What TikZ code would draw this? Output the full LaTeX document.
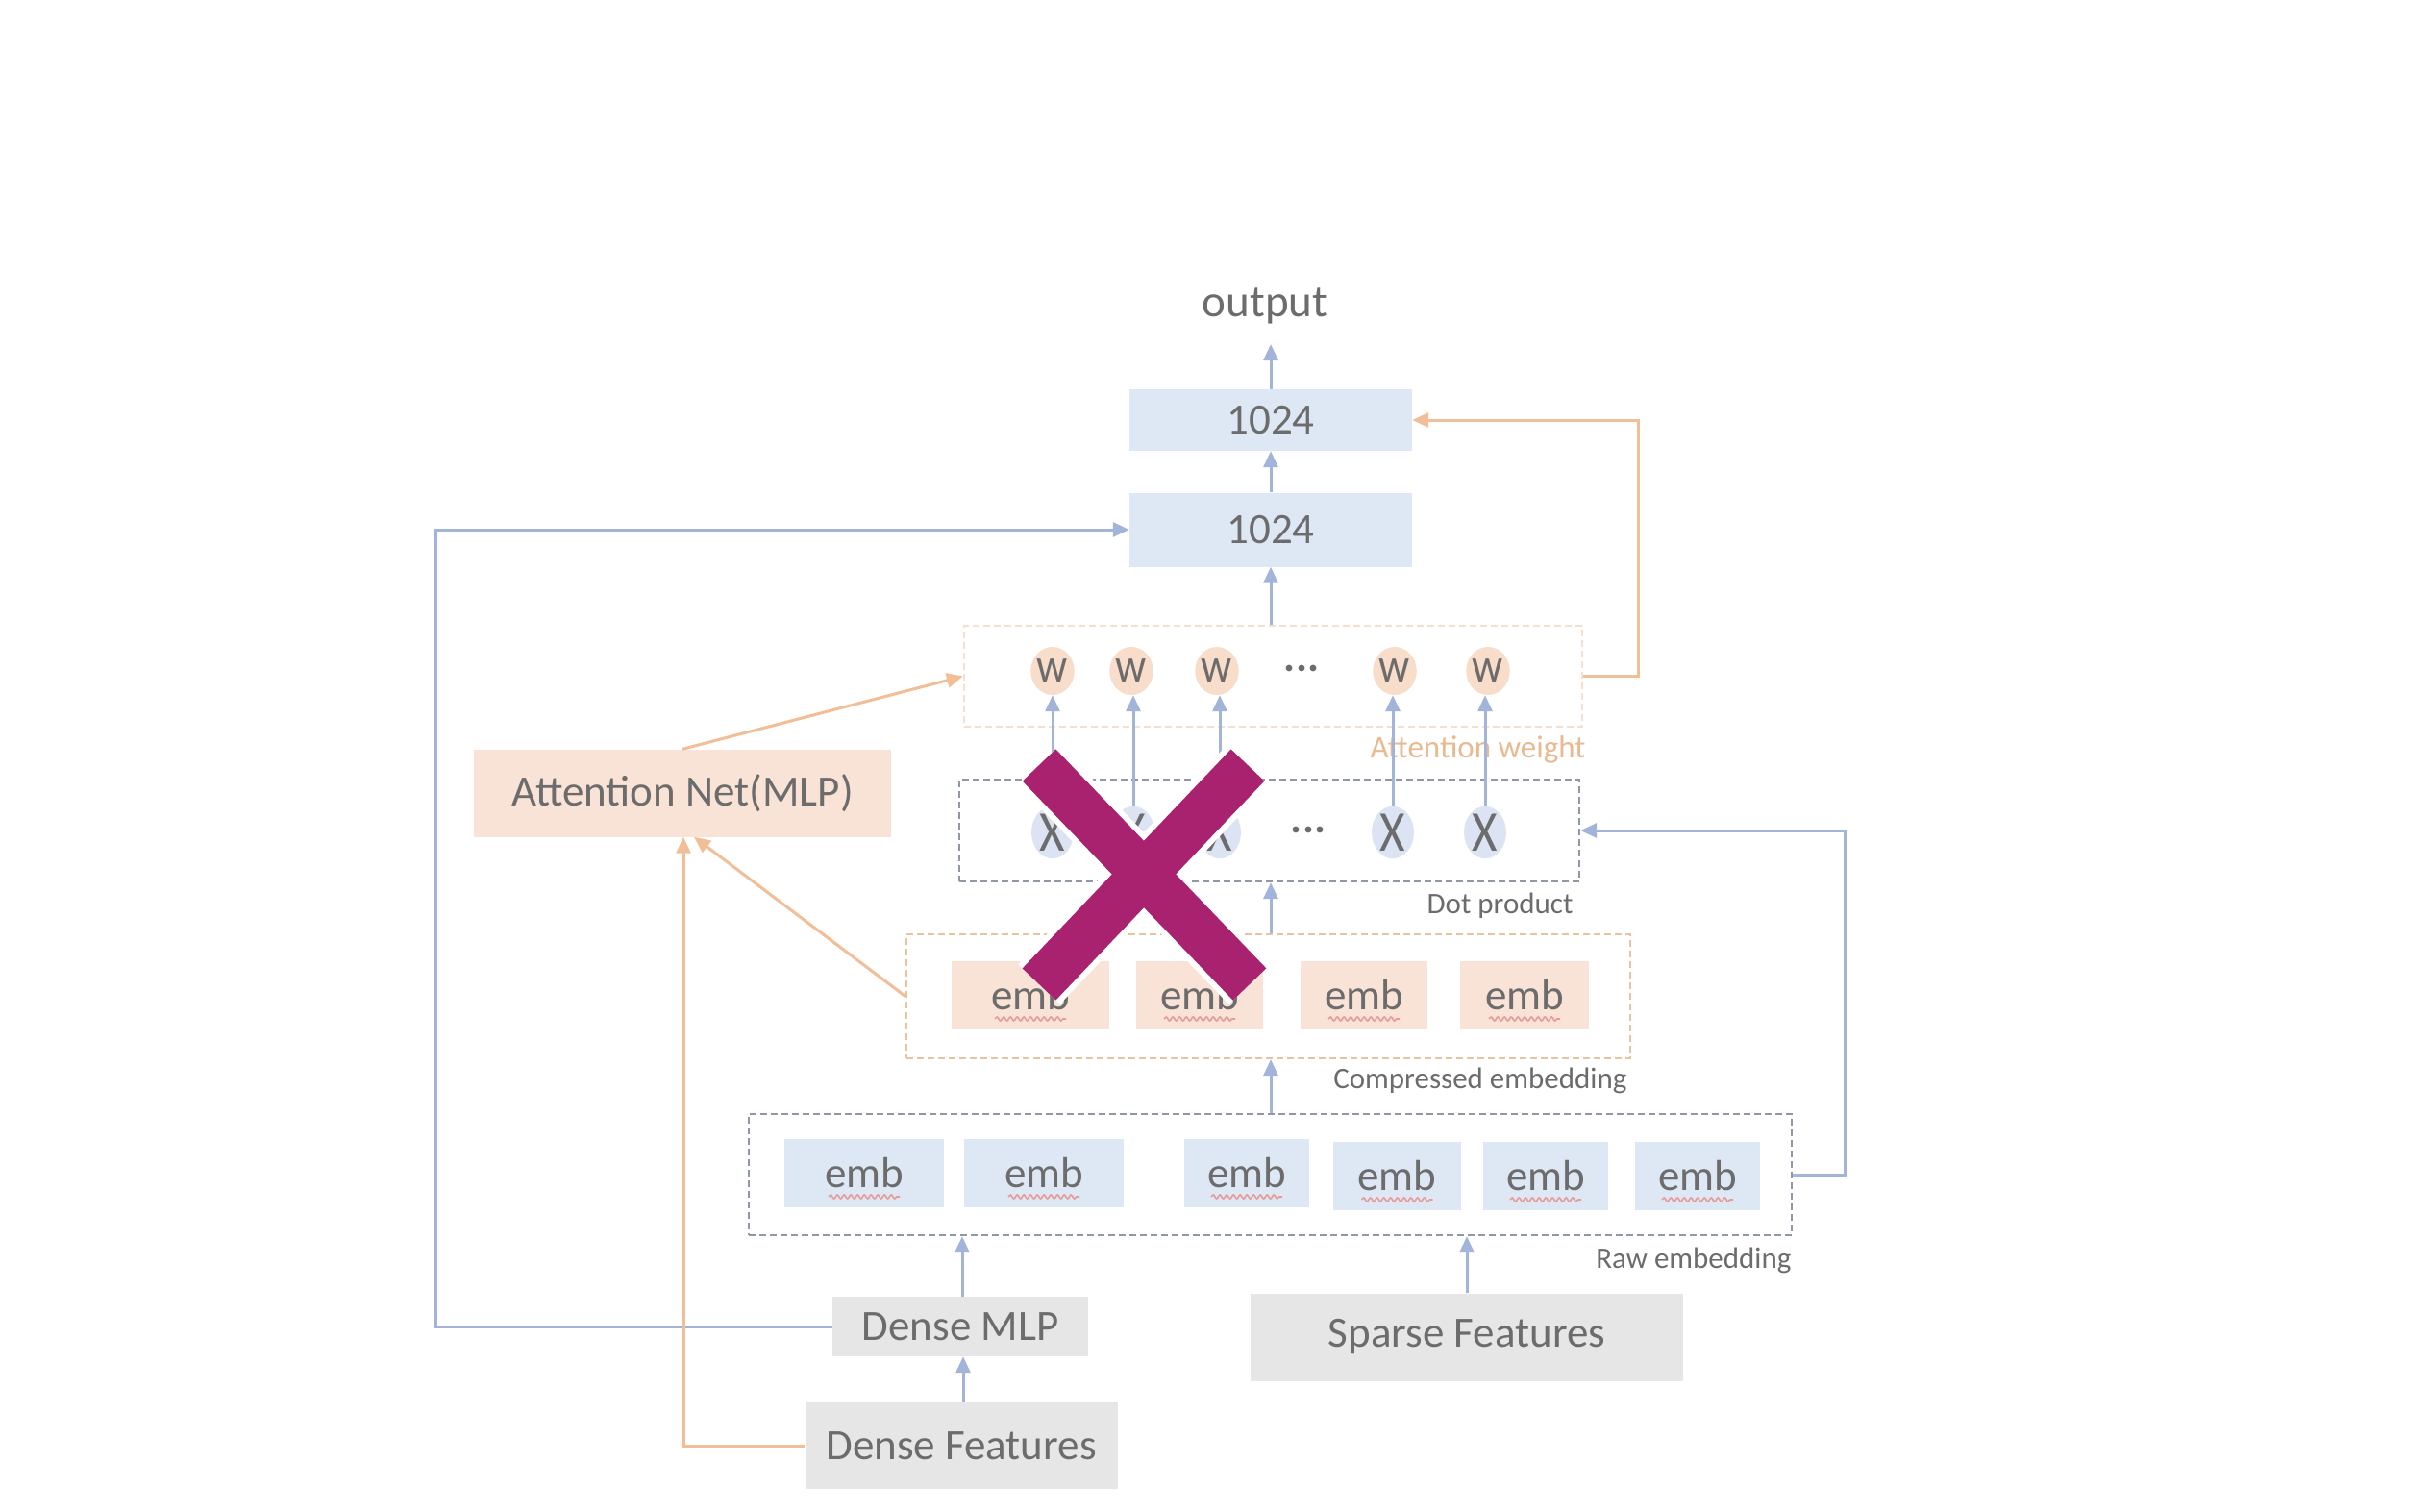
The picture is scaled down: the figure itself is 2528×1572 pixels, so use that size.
\documentclass[tikz,border=0pt]{standalone}
\usepackage{fontspec}
\setmainfont{Carlito}
\usetikzlibrary{arrows.meta,shapes.geometric,decorations.pathmorphing,calc}
\definecolor{txt}{HTML}{6C6C6C}
\definecolor{bfill}{HTML}{DEE7F4}
\definecolor{ofill}{HTML}{F9E3D6}
\definecolor{gfill}{HTML}{E6E6E6}
\definecolor{bline}{HTML}{A3B4DB}
\definecolor{oline}{HTML}{F1BE98}
\definecolor{olabel}{HTML}{E9B990}
\definecolor{gdash}{HTML}{9097A6}
\definecolor{odash}{HTML}{E6C49E}
\definecolor{ldash}{HTML}{F5DFCF}
\definecolor{wfill}{HTML}{F9DDCB}
\definecolor{xfill}{HTML}{DCE4F4}
\definecolor{mag}{HTML}{A8226F}
\definecolor{squig}{HTML}{E79A9A}
\tikzset{
  big/.style={font=\fontsize{45}{50}\selectfont, text=txt},
  small/.style={font=\fontsize{31}{36}\selectfont, text=txt},
  bbox/.style={big, fill=bfill, draw=none, rectangle, inner sep=0pt},
  obox/.style={big, fill=ofill, draw=none, rectangle, inner sep=0pt},
  gbox/.style={big, fill=gfill, draw=none, rectangle, inner sep=0pt},
  grp/.style={rectangle, draw, dashed, line width=2.2pt, dash pattern=on 7pt off 4pt, inner sep=0pt},
  wnode/.style={ellipse, fill=wfill, minimum width=44pt, minimum height=50pt, inner sep=0pt, font=\fontsize{50}{54}\selectfont, text=txt},
  xnode/.style={ellipse, fill=xfill, minimum width=44pt, minimum height=50pt, inner sep=0pt, font=\fontsize{60}{64}\selectfont, text=txt},
  barrow/.style={draw=bline, line width=3pt, -{Triangle[width=15pt,length=17pt]}, color=bline},
  oarrow/.style={draw=oline, line width=3pt, -{Triangle[width=15pt,length=17pt]}, color=oline},
  sq/.style={draw=squig, line width=1.6pt, decorate, decoration={snake, amplitude=2pt, segment length=7pt}},
}
\begin{document}
\begin{tikzpicture}[x=1pt,y=-1pt]
\useasboundingbox[fill=white] (0,0) rectangle (2528,1572);

% top stack
\node[big, font=\fontsize{47}{50}\selectfont] (output) at (1316,318) {output};
\coordinate (outtip) at (1324,358);
\node[bbox, minimum width=294pt, minimum height=64pt] (t1) at (1322,437) {1024};
\node[bbox, minimum width=294pt, minimum height=77pt] (t2) at (1322,551) {1024};

% attention weight group
\node[grp, draw=ldash, minimum width=643pt, minimum height=105pt] (att) at (1324.5,703.5) {};
\foreach \i/\x in {1/1095,2/1177,3/1266,4/1451,5/1548}
  \node[wnode] (w\i) at (\x,698) {\scalebox{0.9}[1]{w}};
\node[big] (wdots) at (1354,695) {\textbf{...}};
\node[small, text=olabel, font=\fontsize{33}{38}\selectfont, anchor=east] (attlbl) at (1653,780) {Attention weight};

% dot product group
\node[grp, draw=gdash, minimum width=645pt, minimum height=106pt] (dot) at (1320.5,864) {};
\foreach \i/\x in {1/1095,2/1179,3/1269,4/1449,5/1545}
  \node[xnode] (x\i) at (\x,866) {\scalebox{0.85}[1]{X}};
\node[big] (xdots) at (1361,863) {\textbf{...}};
\node[small, anchor=east] (dotlbl) at (1640,942) {Dot product};

% compressed embedding
\node[grp, draw=odash, minimum width=753pt, minimum height=129pt] (comp) at (1319.5,1036.5) {};
\node[obox, minimum width=164pt, minimum height=71pt] (c1) at (1072,1035.5) {emb};
\node[obox, minimum width=132pt, minimum height=71pt] (c2) at (1248,1035.5) {emb};
\node[obox, minimum width=132pt, minimum height=71pt] (c3) at (1419,1035.5) {emb};
\node[obox, minimum width=134pt, minimum height=71pt] (c4) at (1586,1035.5) {emb};
\node[small, anchor=east] (complbl) at (1696,1124) {Compressed embedding};

% raw embedding
\node[grp, draw=gdash, minimum width=1085pt, minimum height=126pt] (raw) at (1321.5,1222) {};
\node[bbox, minimum width=166pt, minimum height=71pt] (r1) at (899,1220.5) {emb};
\node[bbox, minimum width=166pt, minimum height=71pt] (r2) at (1086,1220.5) {emb};
\node[bbox, minimum width=130pt, minimum height=71pt] (r3) at (1297,1220.5) {emb};
\node[bbox, minimum width=133pt, minimum height=71pt] (r4) at (1453.5,1223.5) {emb};
\node[bbox, minimum width=130pt, minimum height=71pt] (r5) at (1608,1223.5) {emb};
\node[bbox, minimum width=130pt, minimum height=71pt] (r6) at (1766,1223.5) {emb};
\node[small, anchor=east] (rawlbl) at (1867,1311) {Raw embedding};

% squiggles under emb
\foreach \n in {c1,c2,c3,c4,r1,r2,r3,r4,r5,r6}
  \draw[sq] ([xshift=-37pt,yshift=-9pt]\n.base) -- ([xshift=37pt,yshift=-9pt]\n.base);

% bottom boxes
\node[gbox, minimum width=266pt, minimum height=62pt] (dmlp) at (999,1380) {Dense MLP};
\node[gbox, minimum width=325pt, minimum height=90pt] (dfeat) at (1000,1504) {Dense Features};
\node[gbox, minimum width=450pt, minimum height=91pt] (sparse) at (1526,1391) {Sparse Features};
\node[obox, minimum width=434pt, minimum height=91pt] (attnet) at (710,825) {Attention Net(MLP)};

\coordinate (bl) at (453,0);
\coordinate (orr) at (1704,0);
\coordinate (brr) at (1919,0);

% blue arrows
\draw[barrow] (t1.north) -- (t1.north |- outtip);
\draw[barrow] (t2.north) -- (t1.south);
\draw[barrow] (att.north -| t2.north) -- (t2.south);
\foreach \i in {1,...,5}
  \draw[barrow] (x\i.north) -- (x\i.north |- w\i.south);
\draw[barrow] (comp.north -| t2.north) -- (dot.south -| t2.north);
\draw[barrow] (raw.north -| t2.north) -- (comp.south -| t2.north);
\draw[barrow] ([xshift=2pt]dmlp.north) -- ([xshift=2pt]dmlp.north |- raw.south);
\draw[barrow] ([xshift=2pt]dfeat.north) -- ([xshift=2pt]dfeat.north |- dmlp.south);
\draw[barrow] (sparse.north) -- (sparse.north |- raw.south);
\draw[barrow] (dmlp.west) -- (dmlp.west -| bl) |- (t2.west);
\draw[barrow] (raw.east) -- (raw.east -| brr) |- (dot.east);

% orange arrows
\draw[oarrow] (dfeat.west) -| ([xshift=1pt]attnet.south);
\draw[oarrow] (comp.west) -- ([xshift=12pt]attnet.south);
\draw[oarrow] (attnet.north) -- (att.west);
\draw[oarrow] (att.east) -- (att.east -| orr) |- (t1.east);

% magenta cross
\coordinate (m1) at (1081,796);
\coordinate (m2) at (1300,1024);
\coordinate (m3) at (1298,796);
\coordinate (m4) at (1081,1024);
\draw[white, line width=60pt] (m1) -- (m2);
\draw[white, line width=60pt] (m3) -- (m4);
\draw[mag, line width=48pt] (m1) -- (m2);
\draw[mag, line width=48pt] (m3) -- (m4);
\end{tikzpicture}
\end{document}
